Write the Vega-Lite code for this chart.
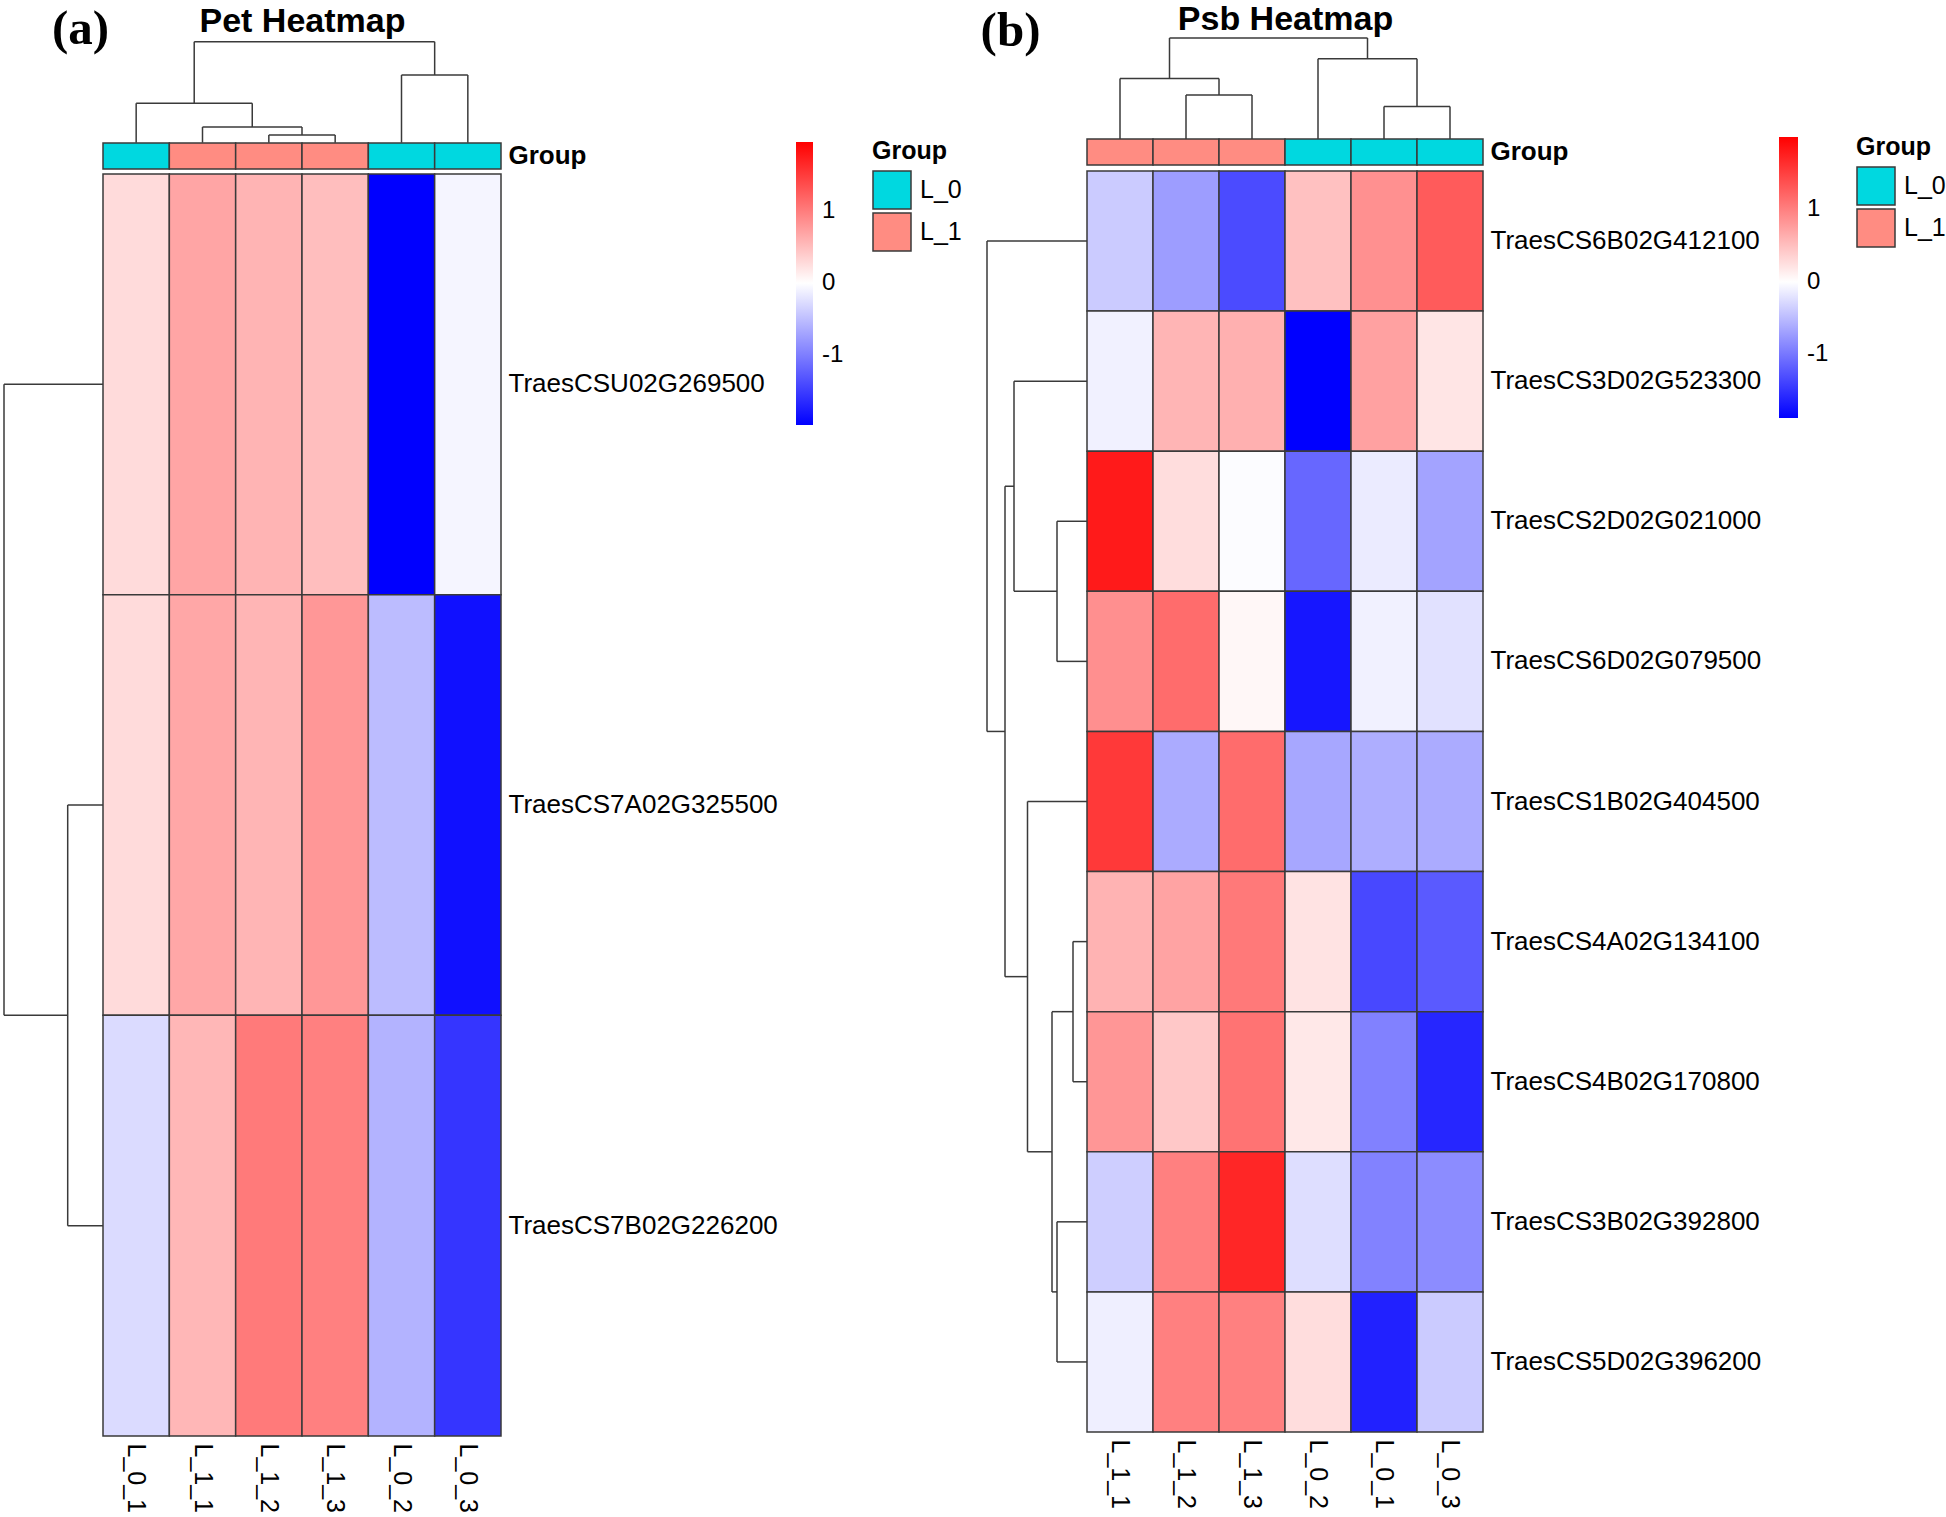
{
  "$schema": "https://vega.github.io/schema/vega-lite/v6.json",
  "width": 1946,
  "height": 1517,
  "autosize": "none",
  "padding": 0,
  "background": "white",
  "config": {
    "view": {"stroke": null},
    "font": "Liberation Sans",
    "axis": {"grid": false, "ticks": false, "domain": false, "labelColor": "black", "titleColor": "black", "labelFont": "Liberation Sans", "titleFont": "Liberation Sans", "labelLimit": 0},
    "legend": {"labelColor": "black", "titleColor": "black", "labelFont": "Liberation Sans", "titleFont": "Liberation Sans"}
  },
  "datasets": {
    "heatA": [
      {"gene": "TraesCSU02G269500", "sample": "L_0_1", "z": 0.28},
      {"gene": "TraesCSU02G269500", "sample": "L_1_1", "z": 0.69},
      {"gene": "TraesCSU02G269500", "sample": "L_1_2", "z": 0.58},
      {"gene": "TraesCSU02G269500", "sample": "L_1_3", "z": 0.5},
      {"gene": "TraesCSU02G269500", "sample": "L_0_2", "z": -1.97},
      {"gene": "TraesCSU02G269500", "sample": "L_0_3", "z": -0.08},
      {"gene": "TraesCS7A02G325500", "sample": "L_0_1", "z": 0.28},
      {"gene": "TraesCS7A02G325500", "sample": "L_1_1", "z": 0.68},
      {"gene": "TraesCS7A02G325500", "sample": "L_1_2", "z": 0.57},
      {"gene": "TraesCS7A02G325500", "sample": "L_1_3", "z": 0.8},
      {"gene": "TraesCS7A02G325500", "sample": "L_0_2", "z": -0.52},
      {"gene": "TraesCS7A02G325500", "sample": "L_0_3", "z": -1.85},
      {"gene": "TraesCS7B02G226200", "sample": "L_0_1", "z": -0.28},
      {"gene": "TraesCS7B02G226200", "sample": "L_1_1", "z": 0.55},
      {"gene": "TraesCS7B02G226200", "sample": "L_1_2", "z": 1.02},
      {"gene": "TraesCS7B02G226200", "sample": "L_1_3", "z": 0.98},
      {"gene": "TraesCS7B02G226200", "sample": "L_0_2", "z": -0.59},
      {"gene": "TraesCS7B02G226200", "sample": "L_0_3", "z": -1.56}
    ],
    "groupA": [
      {"sample": "L_0_1", "group": "L_0", "ann": "Group"},
      {"sample": "L_1_1", "group": "L_1", "ann": "Group"},
      {"sample": "L_1_2", "group": "L_1", "ann": "Group"},
      {"sample": "L_1_3", "group": "L_1", "ann": "Group"},
      {"sample": "L_0_2", "group": "L_0", "ann": "Group"},
      {"sample": "L_0_3", "group": "L_0", "ann": "Group"}
    ],
    "dendTopA": [
      {"x": 3, "x2": 4, "h": 7.7, "h2": 7.7},
      {"x": 3, "x2": 3, "h": 0, "h2": 7.7},
      {"x": 4, "x2": 4, "h": 0, "h2": 7.7},
      {"x": 2, "x2": 3.5, "h": 15.7, "h2": 15.7},
      {"x": 2, "x2": 2, "h": 0, "h2": 15.7},
      {"x": 3.5, "x2": 3.5, "h": 7.7, "h2": 15.7},
      {"x": 1, "x2": 2.75, "h": 39.4, "h2": 39.4},
      {"x": 1, "x2": 1, "h": 0, "h2": 39.4},
      {"x": 2.75, "x2": 2.75, "h": 15.7, "h2": 39.4},
      {"x": 5, "x2": 6, "h": 67.7, "h2": 67.7},
      {"x": 5, "x2": 5, "h": 0, "h2": 67.7},
      {"x": 6, "x2": 6, "h": 0, "h2": 67.7},
      {"x": 1.875, "x2": 5.5, "h": 101, "h2": 101},
      {"x": 1.875, "x2": 1.875, "h": 39.4, "h2": 101},
      {"x": 5.5, "x2": 5.5, "h": 67.7, "h2": 101}
    ],
    "dendLeftA": [
      {"h": 35.3, "h2": 35.3, "p": 2, "p2": 3},
      {"h": 0, "h2": 35.3, "p": 2, "p2": 2},
      {"h": 0, "h2": 35.3, "p": 3, "p2": 3},
      {"h": 99, "h2": 99, "p": 1, "p2": 2.5},
      {"h": 0, "h2": 99, "p": 1, "p2": 1},
      {"h": 35.3, "h2": 99, "p": 2.5, "p2": 2.5}
    ],
    "heatB": [
      {"gene": "TraesCS6B02G412100", "sample": "L_1_1", "z": -0.38},
      {"gene": "TraesCS6B02G412100", "sample": "L_1_2", "z": -0.72},
      {"gene": "TraesCS6B02G412100", "sample": "L_1_3", "z": -1.33},
      {"gene": "TraesCS6B02G412100", "sample": "L_0_2", "z": 0.49},
      {"gene": "TraesCS6B02G412100", "sample": "L_0_1", "z": 0.87},
      {"gene": "TraesCS6B02G412100", "sample": "L_0_3", "z": 1.29},
      {"gene": "TraesCS3D02G523300", "sample": "L_1_1", "z": -0.1},
      {"gene": "TraesCS3D02G523300", "sample": "L_1_2", "z": 0.58},
      {"gene": "TraesCS3D02G523300", "sample": "L_1_3", "z": 0.62},
      {"gene": "TraesCS3D02G523300", "sample": "L_0_2", "z": -1.88},
      {"gene": "TraesCS3D02G523300", "sample": "L_0_1", "z": 0.74},
      {"gene": "TraesCS3D02G523300", "sample": "L_0_3", "z": 0.2},
      {"gene": "TraesCS2D02G021000", "sample": "L_1_1", "z": 1.8},
      {"gene": "TraesCS2D02G021000", "sample": "L_1_2", "z": 0.27},
      {"gene": "TraesCS2D02G021000", "sample": "L_1_3", "z": -0.02},
      {"gene": "TraesCS2D02G021000", "sample": "L_0_2", "z": -1.12},
      {"gene": "TraesCS2D02G021000", "sample": "L_0_1", "z": -0.15},
      {"gene": "TraesCS2D02G021000", "sample": "L_0_3", "z": -0.68},
      {"gene": "TraesCS6D02G079500", "sample": "L_1_1", "z": 0.88},
      {"gene": "TraesCS6D02G079500", "sample": "L_1_2", "z": 1.15},
      {"gene": "TraesCS6D02G079500", "sample": "L_1_3", "z": 0.06},
      {"gene": "TraesCS6D02G079500", "sample": "L_0_2", "z": -1.72},
      {"gene": "TraesCS6D02G079500", "sample": "L_0_1", "z": -0.1},
      {"gene": "TraesCS6D02G079500", "sample": "L_0_3", "z": -0.22},
      {"gene": "TraesCS1B02G404500", "sample": "L_1_1", "z": 1.55},
      {"gene": "TraesCS1B02G404500", "sample": "L_1_2", "z": -0.62},
      {"gene": "TraesCS1B02G404500", "sample": "L_1_3", "z": 1.15},
      {"gene": "TraesCS1B02G404500", "sample": "L_0_2", "z": -0.65},
      {"gene": "TraesCS1B02G404500", "sample": "L_0_1", "z": -0.6},
      {"gene": "TraesCS1B02G404500", "sample": "L_0_3", "z": -0.62},
      {"gene": "TraesCS4A02G134100", "sample": "L_1_1", "z": 0.6},
      {"gene": "TraesCS4A02G134100", "sample": "L_1_2", "z": 0.72},
      {"gene": "TraesCS4A02G134100", "sample": "L_1_3", "z": 1.05},
      {"gene": "TraesCS4A02G134100", "sample": "L_0_2", "z": 0.22},
      {"gene": "TraesCS4A02G134100", "sample": "L_0_1", "z": -1.35},
      {"gene": "TraesCS4A02G134100", "sample": "L_0_3", "z": -1.22},
      {"gene": "TraesCS4B02G170800", "sample": "L_1_1", "z": 0.82},
      {"gene": "TraesCS4B02G170800", "sample": "L_1_2", "z": 0.43},
      {"gene": "TraesCS4B02G170800", "sample": "L_1_3", "z": 1.1},
      {"gene": "TraesCS4B02G170800", "sample": "L_0_2", "z": 0.18},
      {"gene": "TraesCS4B02G170800", "sample": "L_0_1", "z": -0.93},
      {"gene": "TraesCS4B02G170800", "sample": "L_0_3", "z": -1.6},
      {"gene": "TraesCS3B02G392800", "sample": "L_1_1", "z": -0.36},
      {"gene": "TraesCS3B02G392800", "sample": "L_1_2", "z": 1.0},
      {"gene": "TraesCS3B02G392800", "sample": "L_1_3", "z": 1.7},
      {"gene": "TraesCS3B02G392800", "sample": "L_0_2", "z": -0.24},
      {"gene": "TraesCS3B02G392800", "sample": "L_0_1", "z": -0.92},
      {"gene": "TraesCS3B02G392800", "sample": "L_0_3", "z": -0.85},
      {"gene": "TraesCS5D02G396200", "sample": "L_1_1", "z": -0.12},
      {"gene": "TraesCS5D02G396200", "sample": "L_1_2", "z": 1.0},
      {"gene": "TraesCS5D02G396200", "sample": "L_1_3", "z": 1.0},
      {"gene": "TraesCS5D02G396200", "sample": "L_0_2", "z": 0.27},
      {"gene": "TraesCS5D02G396200", "sample": "L_0_1", "z": -1.64},
      {"gene": "TraesCS5D02G396200", "sample": "L_0_3", "z": -0.38}
    ],
    "groupB": [
      {"sample": "L_1_1", "group": "L_1", "ann": "Group"},
      {"sample": "L_1_2", "group": "L_1", "ann": "Group"},
      {"sample": "L_1_3", "group": "L_1", "ann": "Group"},
      {"sample": "L_0_2", "group": "L_0", "ann": "Group"},
      {"sample": "L_0_1", "group": "L_0", "ann": "Group"},
      {"sample": "L_0_3", "group": "L_0", "ann": "Group"}
    ],
    "dendTopB": [
      {"x": 2, "x2": 3, "h": 44, "h2": 44},
      {"x": 2, "x2": 2, "h": 0, "h2": 44},
      {"x": 3, "x2": 3, "h": 0, "h2": 44},
      {"x": 1, "x2": 2.5, "h": 60.5, "h2": 60.5},
      {"x": 1, "x2": 1, "h": 0, "h2": 60.5},
      {"x": 2.5, "x2": 2.5, "h": 44, "h2": 60.5},
      {"x": 5, "x2": 6, "h": 32.4, "h2": 32.4},
      {"x": 5, "x2": 5, "h": 0, "h2": 32.4},
      {"x": 6, "x2": 6, "h": 0, "h2": 32.4},
      {"x": 4, "x2": 5.5, "h": 80.3, "h2": 80.3},
      {"x": 4, "x2": 4, "h": 0, "h2": 80.3},
      {"x": 5.5, "x2": 5.5, "h": 32.4, "h2": 80.3},
      {"x": 1.75, "x2": 4.75, "h": 101, "h2": 101},
      {"x": 1.75, "x2": 1.75, "h": 60.5, "h2": 101},
      {"x": 4.75, "x2": 4.75, "h": 80.3, "h2": 101}
    ],
    "dendLeftB": [
      {"h": 30, "h2": 30, "p": 3, "p2": 4},
      {"h": 0, "h2": 30, "p": 3, "p2": 3},
      {"h": 0, "h2": 30, "p": 4, "p2": 4},
      {"h": 73, "h2": 73, "p": 2, "p2": 3.5},
      {"h": 0, "h2": 73, "p": 2, "p2": 2},
      {"h": 30, "h2": 73, "p": 3.5, "p2": 3.5},
      {"h": 14, "h2": 14, "p": 6, "p2": 7},
      {"h": 0, "h2": 14, "p": 6, "p2": 6},
      {"h": 0, "h2": 14, "p": 7, "p2": 7},
      {"h": 30, "h2": 30, "p": 8, "p2": 9},
      {"h": 0, "h2": 30, "p": 8, "p2": 8},
      {"h": 0, "h2": 30, "p": 9, "p2": 9},
      {"h": 35, "h2": 35, "p": 6.5, "p2": 8.5},
      {"h": 14, "h2": 35, "p": 6.5, "p2": 6.5},
      {"h": 30, "h2": 35, "p": 8.5, "p2": 8.5},
      {"h": 59.5, "h2": 59.5, "p": 5, "p2": 7.5},
      {"h": 0, "h2": 59.5, "p": 5, "p2": 5},
      {"h": 35, "h2": 59.5, "p": 7.5, "p2": 7.5},
      {"h": 82, "h2": 82, "p": 2.75, "p2": 6.25},
      {"h": 73, "h2": 82, "p": 2.75, "p2": 2.75},
      {"h": 59.5, "h2": 82, "p": 6.25, "p2": 6.25},
      {"h": 100, "h2": 100, "p": 1, "p2": 4.5},
      {"h": 0, "h2": 100, "p": 1, "p2": 1},
      {"h": 82, "h2": 100, "p": 4.5, "p2": 4.5}
    ]
  },
  "layer": [
    {
      "data": {"name": "heatA"},
      "mark": {"type": "rect", "stroke": "#3a3a3a", "strokeWidth": 1.5},
      "encoding": {
        "x": {"field": "sample", "type": "nominal", "sort": ["L_0_1", "L_1_1", "L_1_2", "L_1_3", "L_0_2", "L_0_3"], "scale": {"range": [103, 501], "padding": 0},
          "axis": {"orient": "bottom", "offset": -81, "labelAngle": 90, "labelAlign": "left", "labelBaseline": "middle", "labelPadding": 7, "labelFontSize": 25, "title": null}},
        "y": {"field": "gene", "type": "nominal", "sort": ["TraesCSU02G269500", "TraesCS7A02G325500", "TraesCS7B02G226200"], "scale": {"range": [174, 1436], "padding": 0},
          "axis": {"orient": "right", "offset": -1445, "labelPadding": 7, "labelFontSize": 26, "title": null}},
        "color": {"field": "z", "type": "quantitative", "scale": {"domain": [-1.97, 0, 1.96], "range": ["#0000FF", "#FFFFFF", "#FF0000"], "interpolate": "rgb"},
          "legend": {"orient": "none", "legendX": 796, "legendY": 142, "direction": "vertical", "gradientLength": 283, "gradientThickness": 17, "title": null, "values": [-1, 0, 1], "labelExpr": "datum.value < 0 ? '-' + format(-datum.value, 'd') : format(datum.value, 'd')", "labelFontSize": 24, "labelOffset": 9, "labelOverlap": false, "gradientStrokeWidth": 0, "padding": 0}}
      }
    },
    {
      "data": {"name": "groupA"},
      "mark": {"type": "rect", "stroke": "#3a3a3a", "strokeWidth": 1.5},
      "encoding": {
        "x": {"field": "sample", "type": "nominal", "sort": ["L_0_1", "L_1_1", "L_1_2", "L_1_3", "L_0_2", "L_0_3"], "scale": {"range": [103, 501], "padding": 0}, "axis": null},
        "y": {"field": "ann", "type": "nominal", "scale": {"range": [143, 169], "padding": 0},
          "axis": {"orient": "right", "offset": -1445, "labelPadding": 7, "labelFontSize": 26, "labelFontWeight": "bold", "title": null}},
        "color": {"field": "group", "type": "nominal", "scale": {"domain": ["L_0", "L_1"], "range": ["#00D8E0", "#FF8C82"]},
          "legend": {"orient": "none", "legendX": 872, "legendY": 139, "title": "Group", "titleFontSize": 25, "titleFontWeight": "bold", "titlePadding": 6, "symbolType": "square", "symbolSize": 1444, "symbolStrokeColor": "#3a3a3a", "symbolStrokeWidth": 1.5, "symbolOpacity": 1, "rowPadding": -6.5, "labelFontSize": 25, "labelOffset": 8, "padding": 0}}
      }
    },
    {
      "data": {"name": "dendTopA"},
      "mark": {"type": "rule", "stroke": "#3a3a3a", "strokeWidth": 1.5},
      "encoding": {
        "x": {"field": "x", "type": "quantitative", "scale": {"domain": [0.5, 6.5], "range": [103, 501], "nice": false, "zero": false},
          "axis": {"orient": "top", "title": "Pet Heatmap", "labels": false, "titleY": 31, "titleBaseline": "alphabetic", "titleFontSize": 34, "titleFontWeight": "bold"}},
        "x2": {"field": "x2"},
        "y": {"field": "h", "type": "quantitative", "scale": {"domain": [0, 101], "range": [142.7, 41.7], "nice": false, "zero": false},
          "axis": {"orient": "left", "title": "(a)", "labels": false, "titleAngle": 0, "titleX": 80, "titleY": 43, "titleAlign": "center", "titleBaseline": "alphabetic", "titleFont": "Liberation Serif", "titleFontSize": 49, "titleFontWeight": "bold"}},
        "y2": {"field": "h2"}
      }
    },
    {
      "data": {"name": "dendLeftA"},
      "mark": {"type": "rule", "stroke": "#3a3a3a", "strokeWidth": 1.5},
      "encoding": {
        "x": {"field": "h", "type": "quantitative", "scale": {"domain": [0, 99], "range": [103, 4], "nice": false, "zero": false}, "axis": null},
        "x2": {"field": "h2"},
        "y": {"field": "p", "type": "quantitative", "scale": {"domain": [0.5, 3.5], "range": [174, 1436], "nice": false, "zero": false}, "axis": null},
        "y2": {"field": "p2"}
      }
    },
    {
      "data": {"name": "heatB"},
      "mark": {"type": "rect", "stroke": "#3a3a3a", "strokeWidth": 1.5},
      "encoding": {
        "x": {"field": "sample", "type": "nominal", "sort": ["L_1_1", "L_1_2", "L_1_3", "L_0_2", "L_0_1", "L_0_3"], "scale": {"range": [1087, 1483], "padding": 0},
          "axis": {"orient": "bottom", "offset": -85, "labelAngle": 90, "labelAlign": "left", "labelBaseline": "middle", "labelPadding": 7, "labelFontSize": 25, "title": null}},
        "y": {"field": "gene", "type": "nominal", "sort": ["TraesCS6B02G412100", "TraesCS3D02G523300", "TraesCS2D02G021000", "TraesCS6D02G079500", "TraesCS1B02G404500", "TraesCS4A02G134100", "TraesCS4B02G170800", "TraesCS3B02G392800", "TraesCS5D02G396200"], "scale": {"range": [171, 1432], "padding": 0},
          "axis": {"orient": "right", "offset": -463, "labelPadding": 7, "labelFontSize": 26, "title": null}},
        "color": {"field": "z", "type": "quantitative", "scale": {"domain": [-1.88, 0, 2.0], "range": ["#0000FF", "#FFFFFF", "#FF0000"], "interpolate": "rgb"},
          "legend": {"orient": "none", "legendX": 1779, "legendY": 137, "direction": "vertical", "gradientLength": 281, "gradientThickness": 19, "title": null, "values": [-1, 0, 1], "labelExpr": "datum.value < 0 ? '-' + format(-datum.value, 'd') : format(datum.value, 'd')", "labelFontSize": 24, "labelOffset": 9, "labelOverlap": false, "gradientStrokeWidth": 0, "padding": 0}}
      }
    },
    {
      "data": {"name": "groupB"},
      "mark": {"type": "rect", "stroke": "#3a3a3a", "strokeWidth": 1.5},
      "encoding": {
        "x": {"field": "sample", "type": "nominal", "sort": ["L_1_1", "L_1_2", "L_1_3", "L_0_2", "L_0_1", "L_0_3"], "scale": {"range": [1087, 1483], "padding": 0}, "axis": null},
        "y": {"field": "ann", "type": "nominal", "scale": {"range": [139, 165], "padding": 0},
          "axis": {"orient": "right", "offset": -463, "labelPadding": 7, "labelFontSize": 26, "labelFontWeight": "bold", "title": null}},
        "color": {"field": "group", "type": "nominal", "scale": {"domain": ["L_0", "L_1"], "range": ["#00D8E0", "#FF8C82"]},
          "legend": {"orient": "none", "legendX": 1856, "legendY": 135, "title": "Group", "titleFontSize": 25, "titleFontWeight": "bold", "titlePadding": 6, "symbolType": "square", "symbolSize": 1444, "symbolStrokeColor": "#3a3a3a", "symbolStrokeWidth": 1.5, "symbolOpacity": 1, "rowPadding": -6.5, "labelFontSize": 25, "labelOffset": 8, "padding": 0}}
      }
    },
    {
      "data": {"name": "dendTopB"},
      "mark": {"type": "rule", "stroke": "#3a3a3a", "strokeWidth": 1.5},
      "encoding": {
        "x": {"field": "x", "type": "quantitative", "scale": {"domain": [0.5, 6.5], "range": [1087, 1483], "nice": false, "zero": false},
          "axis": {"orient": "top", "title": "Psb Heatmap", "labels": false, "titleY": 29, "titleBaseline": "alphabetic", "titleFontSize": 34, "titleFontWeight": "bold"}},
        "x2": {"field": "x2"},
        "y": {"field": "h", "type": "quantitative", "scale": {"domain": [0, 101], "range": [139, 38], "nice": false, "zero": false},
          "axis": {"orient": "left", "title": "(b)", "labels": false, "titleAngle": 0, "titleX": 1010, "titleY": 45, "titleAlign": "center", "titleBaseline": "alphabetic", "titleFont": "Liberation Serif", "titleFontSize": 49, "titleFontWeight": "bold"}},
        "y2": {"field": "h2"}
      }
    },
    {
      "data": {"name": "dendLeftB"},
      "mark": {"type": "rule", "stroke": "#3a3a3a", "strokeWidth": 1.5},
      "encoding": {
        "x": {"field": "h", "type": "quantitative", "scale": {"domain": [0, 100], "range": [1087, 987], "nice": false, "zero": false}, "axis": null},
        "x2": {"field": "h2"},
        "y": {"field": "p", "type": "quantitative", "scale": {"domain": [0.5, 9.5], "range": [171, 1432], "nice": false, "zero": false}, "axis": null},
        "y2": {"field": "p2"}
      }
    }
  ],
  "resolve": {
    "scale": {"x": "independent", "y": "independent", "color": "independent"},
    "axis": {"x": "independent", "y": "independent"},
    "legend": {"color": "independent"}
  }
}
